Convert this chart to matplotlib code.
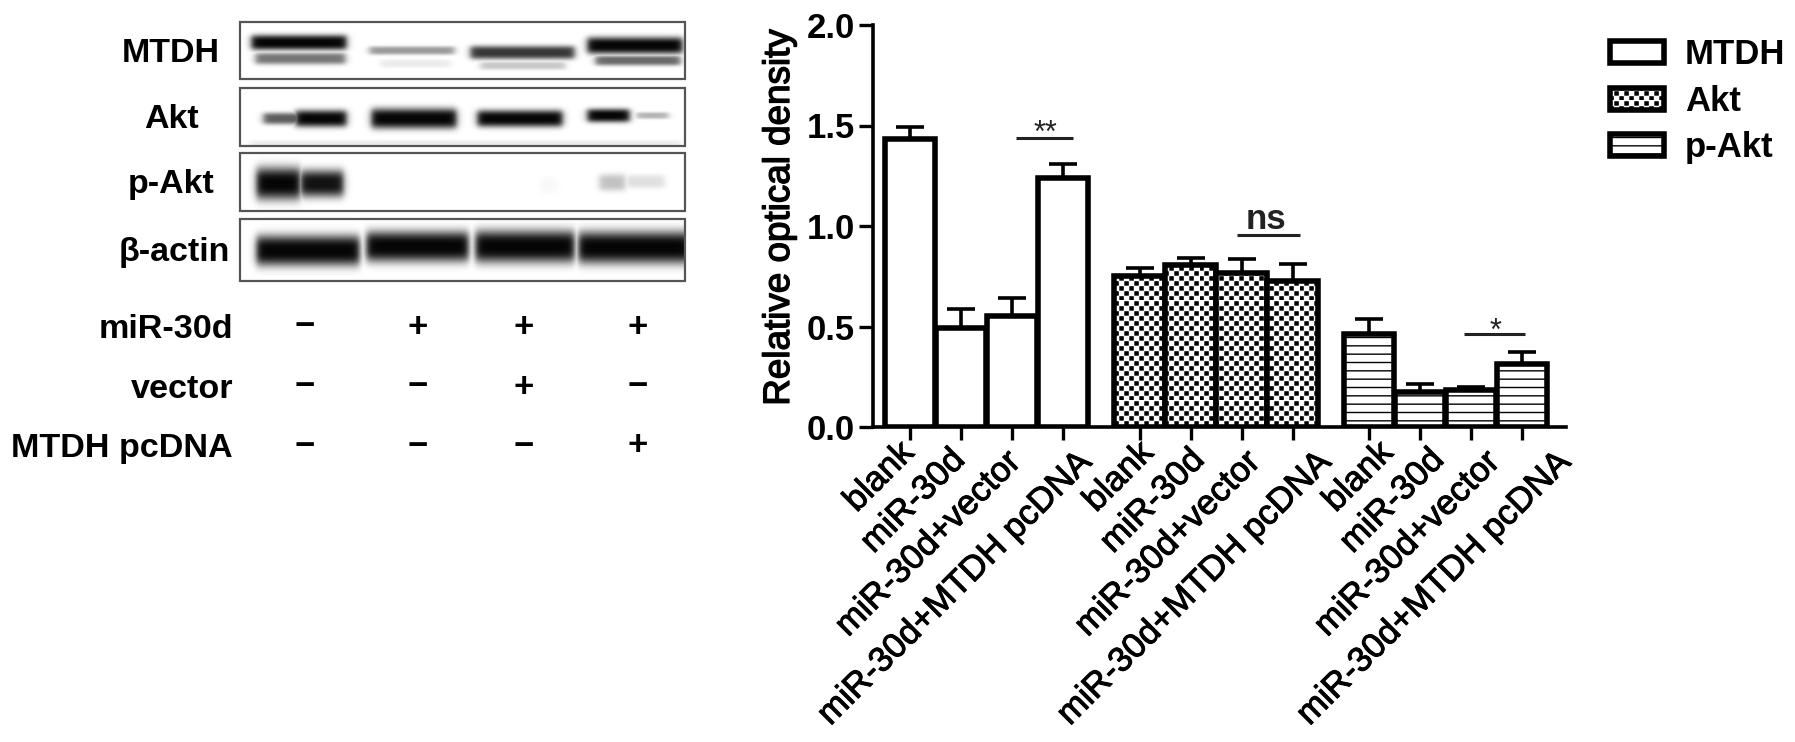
import numpy as np
import matplotlib
matplotlib.use("Agg")
import matplotlib.pyplot as plt
import matplotlib.patheffects as pe
from matplotlib import hatch as mhatch
from matplotlib.patches import Patch, Rectangle
from matplotlib.path import Path
from matplotlib.transforms import ScaledTranslation

plt.rcParams['font.family'] = ['Liberation Sans', 'DejaVu Sans']
plt.rcParams['hatch.linewidth'] = 1.0


# -----data-----
bar_labels = ["blank", "miR-30d", "miR-30d+vector", "miR-30d+MTDH pcDNA"]
series_names = ["MTDH", "Akt", "p-Akt"]
mtdh_vals = [1.432, 0.495, 0.55, 1.24]
mtdh_err = [0.06, 0.09, 0.09, 0.07]
akt_vals = [0.75, 0.807, 0.767, 0.724]
akt_err = [0.04, 0.033, 0.07, 0.085]
pakt_vals = [0.465, 0.172, 0.184, 0.312]
pakt_err = [0.07, 0.04, 0.015, 0.06]

blot_names = ["MTDH", "Akt", "p-Akt", "β-actin"]
row_names = ["miR-30d", "vector", "MTDH pcDNA"]
row_signs = [["−", "+", "+", "+"], ["−", "−", "+", "−"], ["−", "−", "−", "+"]]
# -----------


# checkerboard fill for the Akt bars, takes over the '*' hatch character
class CheckerHatch(mhatch.HatchPatternBase):
    filled = True

    def __init__(self, hatch, density):
        self.cells = 20 if '*' in hatch else 0
        self.num_vertices = self.cells * self.cells // 2 * 5

    def set_vertices_and_codes(self, vertices, codes):
        step = 1 / self.cells
        size = step * 0.62
        i = 0
        for r in range(self.cells):
            for c in range(r % 2, self.cells, 2):
                x, y = c * step, r * step
                vertices[i:i + 5] = [[x, y], [x + size, y], [x + size, y + size], [x, y + size], [x, y]]
                codes[i:i + 5] = [Path.MOVETO, Path.LINETO, Path.LINETO, Path.LINETO, Path.CLOSEPOLY]
                i += 5


mhatch._hatch_types = [h for h in mhatch._hatch_types if h is not mhatch.Stars] + [CheckerHatch]

fatter = [pe.withStroke(linewidth=0.7, foreground='black')]

fig = plt.figure(figsize=(17.95, 7.42), dpi=100)

# whole figure in pixels, used for the western blot side
left = fig.add_axes([0, 0, 1, 1])
left.set_axis_off()

# box top, box bottom, then bands as x0, x1, y, thickness, darkness
blots = [
    (22, 79, [(251, 346, 42, 9, 1.0), (255, 345, 58, 7, 0.55), (369, 454, 50, 5, 0.4), (380, 450, 63, 5, 0.08),
              (470, 574, 52, 8, 0.8), (480, 565, 65, 5, 0.22), (587, 682, 45, 10, 1.0), (595, 680, 60, 6, 0.6)]),
    (88, 146, [(263, 305, 118, 7, 0.65), (295, 346, 118, 10, 1.0), (371, 456, 118, 12, 1.0), (477, 562, 118, 10, 1.0),
               (587, 629, 115, 8, 1.0), (636, 668, 115, 4, 0.3), (250, 680, 143, 4, 0.08)]),
    (153, 211, [(256, 300, 183, 19, 1.0), (300, 343, 183, 16, 0.95), (539, 558, 185, 10, 0.03),
                (599, 625, 182, 10, 0.25), (625, 664, 181, 8, 0.13)]),
    (219, 281, [(256, 359, 250, 18, 1.0), (366, 468, 246, 18, 1.0), (475, 574, 246, 19, 1.0), (578, 690, 247, 19, 1.0)]),
]
box_left, box_right = 240, 685
for top, bottom, bands in blots:
    xx, yy = np.meshgrid(np.arange(box_left, box_right), np.arange(top, bottom))
    dark = np.zeros(xx.shape)
    for x0, x1, yc, thick, d in bands:
        across = 0.5 * (np.tanh((xx - x0) / 4) - np.tanh((xx - x1) / 4))
        down = np.exp(-(np.abs(yy - yc) / (thick * 0.85)) ** 3)
        dark = np.maximum(dark, d * across * down)
    left.imshow(1 - dark * 0.98, cmap='gray', vmin=0, vmax=1, aspect='auto', interpolation='bilinear',
                extent=(box_left, box_right, bottom, top))
    left.add_patch(Rectangle((box_left, top), box_right - box_left, bottom - top, fill=False, ec='#555555', lw=1.6))

left.set_xlim(0, 1795)
left.set_ylim(742, 0)

for name, x, y in zip(blot_names, [171, 171, 171, 174], [53, 119, 185, 253]):
    left.text(x, y, name, ha='center', va='center', fontsize=24.5, fontweight='bold')

for name, y, signs in zip(row_names, [330, 390, 449], row_signs):
    left.text(233, y, name, ha='right', va='center', fontsize=24.6, fontweight='bold')
    for x, s in zip([305, 418, 524, 638], signs):
        left.text(x, y - 3, s, ha='center', va='center', fontsize=25, fontweight='bold')

# bar chart
ax = fig.add_axes([873 / 1795, 315 / 742, 693 / 1795, 402 / 742])
ax.patch.set_alpha(0)

groups = [(0, mtdh_vals, mtdh_err, None), (4.5, akt_vals, akt_err, '*'), (9, pakt_vals, pakt_err, '--')]
ticks = []
for start, vals, errs, pattern in groups:
    xs = start + np.arange(len(vals))
    ticks.extend(xs)
    ax.errorbar(xs, vals, yerr=[np.zeros(len(errs)), errs], fmt='none', ecolor='black', elinewidth=2.6,
                capsize=10, capthick=2.6, zorder=2)
    ax.bar(xs, vals, width=0.99, color='white', edgecolor='black', linewidth=4, hatch=pattern, zorder=3)

ax.set_xlim(-0.725, 12.86)
ax.set_ylim(0, 2.0)
ax.set_yticks([0, 0.5, 1.0, 1.5, 2.0], ["0.0", "0.5", "1.0", "1.5", "2.0"])
ax.set_xticks(ticks, bar_labels * 3, rotation=45, ha='right', rotation_mode='anchor')
ax.tick_params(axis='y', labelsize=25, length=10, width=2.4, pad=3)
ax.tick_params(axis='x', labelsize=25, length=9, width=2.4, pad=6)
for label in ax.get_yticklabels():
    label.set_fontweight('bold')

# the long labels sit further right of their tick than the short ones,
# and each group of labels drifts a bit further right than the ticks do
nudge_x = [-13, -13, -8, 12]
nudge_y = [12, 5, 3, 3]
group_drift = [0, 10, 20]
for i, label in enumerate(ax.get_xticklabels()):
    k = i % 4
    dx = nudge_x[k] + group_drift[i // 4]
    label.set_transform(label.get_transform() + ScaledTranslation(dx / 100, nudge_y[k] / 100, fig.dpi_scale_trans))
    label.set_path_effects(fatter)

ax.set_ylabel("Relative optical density", fontsize=26.5, labelpad=7, y=0.52,
              path_effects=[pe.withStroke(linewidth=1.0, foreground='black')])
ax.spines['top'].set_visible(False)
ax.spines['right'].set_visible(False)
ax.spines['left'].set_linewidth(2.6)
ax.spines['bottom'].set_linewidth(2.6)
for spine in ['left', 'bottom']:
    ax.spines[spine].set_zorder(4)

# significance marks
for x0, x1, y, mark, mx, my, size in [(2.08, 3.2, 1.437, "**", 2.65, 1.46, 22),
                                      (6.41, 7.65, 0.955, "ns", 6.98, 0.95, 25),
                                      (10.86, 12.06, 0.463, "*", 11.47, 0.475, 22)]:
    ax.plot([x0, x1], [y, y], color='#222222', lw=2.2, solid_capstyle='butt')
    ax.text(mx, my, mark, ha='center', va='bottom' if mark == "ns" else 'center', fontsize=size,
            fontweight='bold' if mark == "ns" else 'normal', color='#222222')

handles = [Patch(facecolor='white', edgecolor='black', linewidth=4, hatch=p) for p in [None, '*', '--']]
fig.legend(handles, series_names, loc='upper left', bbox_to_anchor=(1600 / 1795, 1 - 28 / 742), frameon=False,
           prop={'size': 25, 'weight': 'bold'}, handlelength=1.55, handleheight=0.6, handletextpad=0.6,
           labelspacing=0.39, borderpad=0.3, borderaxespad=0)

plt.savefig("out.png", dpi=100)
